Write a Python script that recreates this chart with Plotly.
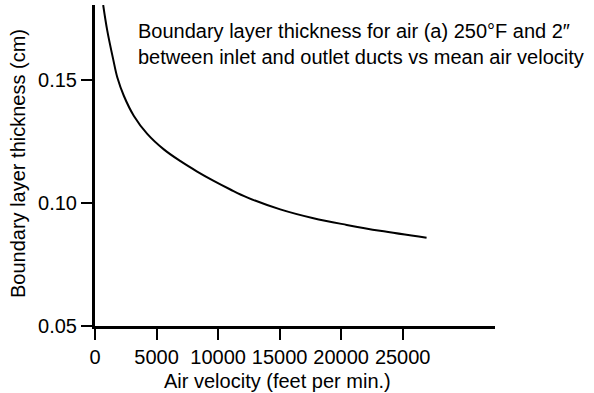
import plotly.graph_objects as go

# Mean air velocity (feet per min.) and boundary layer thickness (cm)
velocity = [665, 990, 1475, 1815, 2350, 3160, 4245, 5590, 6945, 8300, 9645,
            11000, 12350, 15050, 17750, 20455, 23155, 26940]
thickness = [0.1805, 0.1703, 0.1585, 0.1510, 0.1435, 0.1354, 0.1281, 0.1218,
             0.1170, 0.1128, 0.1090, 0.1055, 0.1023, 0.0974, 0.0938, 0.0911,
             0.0887, 0.0859]

x_ticks = [0, 5000, 10000, 15000, 20000, 25000]
y_ticks = [0.05, 0.10, 0.15]
y_tick_text = ["0.05", "0.10", "0.15"]

FONT = "Liberation Sans, Arial, sans-serif"

# plot area in pixels: left 95, right 495, top 5, bottom 326
PW, PH = 400, 321

fig = go.Figure()
fig.add_trace(go.Scatter(
    x=velocity, y=thickness, mode="lines",
    line=dict(color="black", width=2, shape="spline", smoothing=1.0),
    showlegend=False, hoverinfo="skip",
))

fig.update_layout(
    width=594, height=393,
    margin=dict(l=95, r=99, t=5, b=67),
    paper_bgcolor="white", plot_bgcolor="white",
    font=dict(family=FONT, size=20, color="black"),
    xaxis=dict(
        range=[0, 32500], showgrid=False, zeroline=False,
        showline=True, linecolor="black", linewidth=2.5,
        ticks="outside", ticklen=11, tickwidth=1.5, tickcolor="black",
        tickvals=x_ticks, ticktext=[str(v) for v in x_ticks],
        tickfont=dict(size=20),
    ),
    yaxis=dict(
        range=[0.05, 0.1805], showgrid=False, zeroline=False,
        showline=True, linecolor="black", linewidth=3,
        ticks="outside", ticklen=11, tickwidth=1.5, tickcolor="black",
        tickvals=y_ticks, ticktext=y_tick_text,
        tickfont=dict(size=20),
    ),
    annotations=[
        dict(text="Boundary layer thickness for air (a) 250°F and 2″<br>"
                  "between inlet and outlet ducts vs mean air velocity",
             xref="paper", yref="paper", x=(136 - 95) / PW, y=1 - 13 / PH,
             xanchor="left", yanchor="top", showarrow=False, align="left",
             font=dict(size=20)),
        dict(text="Air velocity (feet per min.)", xref="paper", yref="paper",
             x=(277 - 95) / PW, y=-(381 - 326) / PH, xanchor="center", yanchor="middle",
             showarrow=False, font=dict(size=20)),
        dict(text="Boundary layer thickness (cm)", xref="paper", yref="paper",
             x=-(95 - 18) / PW, y=(326 - 164) / PH, xanchor="center", yanchor="middle",
             textangle=-90, showarrow=False, font=dict(size=20)),
    ],
)

fig.write_html("out.html")
